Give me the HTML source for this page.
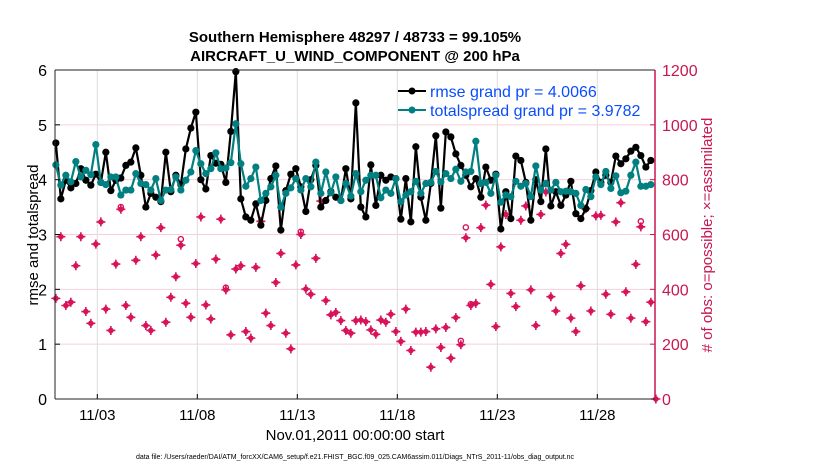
<!DOCTYPE html>
<html><head><meta charset="utf-8"><style>
body{margin:0;background:#fff;}
svg{display:block;font-family:"Liberation Sans",Arial,sans-serif;}
</style></head><body>
<svg id="chart" width="830" height="470" viewBox="0 0 830 470">
<rect width="830" height="470" fill="#fff"/>
<g id="grid"></g><g id="obs"></g><g id="lines"></g><g id="axes"></g>
<text x="355" y="42" text-anchor="middle" font-size="15" font-weight="bold">Southern Hemisphere 48297 / 48733 = 99.105%</text>
<text x="355" y="61" text-anchor="middle" font-size="15" font-weight="bold">AIRCRAFT_U_WIND_COMPONENT @ 200 hPa</text>
<text transform="translate(38,235) rotate(-90)" text-anchor="middle" font-size="15">rmse and totalspread</text>
<text transform="translate(712,235) rotate(-90)" text-anchor="middle" font-size="15" fill="#c8174f"># of obs: o=possible; ×=assimilated</text>
<text x="355" y="440" text-anchor="middle" font-size="15">Nov.01,2011 00:00:00 start</text>
<text x="355" y="459" text-anchor="middle" font-size="7">data file: /Users/raeder/DAI/ATM_forcXX/CAM6_setup/f.e21.FHIST_BGC.f09_025.CAM6assim.011/Diags_NTrS_2011-11/obs_diag_output.nc</text>
<g>
<line x1="398" y1="91" x2="426" y2="91" stroke="#000" stroke-width="2"/><circle cx="412" cy="91" r="3.5" fill="#000"/>
<text x="430" y="97" font-size="16" fill="#0a4dff">rmse grand pr = 4.0066</text>
<line x1="398" y1="110" x2="426" y2="110" stroke="#008080" stroke-width="2"/><circle cx="412" cy="110" r="3.5" fill="#008080"/>
<text x="430" y="116" font-size="16" fill="#0a4dff">totalspread grand pr = 3.9782</text>
</g>
</svg>
<script>
const rmse=[4.67,3.65,3.99,3.85,3.93,4.2,3.99,3.9,4.1,3.95,4.5,3.8,3.99,4.03,4.26,4.32,4.58,4.08,3.5,3.75,3.68,3.6,4.5,3.78,4.08,3.91,4.56,4.94,5.23,
4.0,3.83,4.44,4.3,4.28,3.95,4.88,5.97,
3.65,3.32,3.26,3.56,3.17,3.62,4.02,4.25,3.08,3.8,4.1,4.2,3.87,3.42,4.0,4.26,3.5,3.62,3.78,3.68,3.62,4.2,3.65,5.4,
3.5,3.32,4.27,3.53,4.08,3.99,4.05,4.02,3.28,4.02,3.23,4.6,3.68,3.26,3.93,4.8,3.48,4.87,4.78,4.47,4.26,4.08,3.87,4.02,3.68,4.23,3.99,4.1,3.1,3.78,
3.29,4.43,4.35,3.95,3.26,4.0,3.6,4.56,3.52,3.78,3.53,3.72,3.97,3.38,3.29,3.47,3.8,4.14,3.95,4.08,3.95,4.43,4.29,4.38,4.52,4.59,4.44,4.23,4.35];
const spread=[4.27,3.9,4.08,3.96,4.33,4.05,4.17,4.09,4.64,3.95,3.91,4.05,4.05,3.72,3.81,3.81,4.11,3.93,3.91,3.81,4.02,3.62,3.81,3.82,4.05,3.81,3.99,4.14,4.53,4.29,4.11,
4.2,4.49,4.2,4.21,4.31,5.02,4.29,3.88,4.02,4.23,3.62,3.75,3.87,4.08,3.5,3.75,3.85,4.02,3.81,4.02,3.87,4.32,3.75,4.14,3.76,4.05,3.62,3.93,3.7,4.11,
3.78,3.99,4.08,4.08,3.67,3.81,3.75,4.02,3.6,3.72,3.78,3.97,3.75,3.93,3.95,4.15,3.96,4.11,4.02,4.19,3.97,4.14,4.15,4.7,3.93,3.95,3.75,4.08,3.59,3.72,
3.69,3.97,3.88,3.93,3.69,4.25,3.81,3.93,3.81,3.95,3.78,3.79,3.78,3.75,3.53,3.82,3.69,4.05,3.91,4.15,3.84,4.07,3.76,3.79,4.08,4.32,3.88,3.88,3.91];
const obsAssim=[367,592,341,353,486,592,319,276,565,646,328,250,492,692,341,298,506,592,268,250,525,625,280,371,446,561,349,298,494,664,343,
292,510,656,398,234,474,486,246,222,480,648,313,268,425,531,240,183,489,600,401,382,513,722,359,307,316,286,250,240,286,
288,282,252,236,288,280,309,246,210,328,177,244,244,246,116,256,188,261,149,297,198,588,341,349,625,707,418,264,555,673,385,
337,652,704,398,268,673,755,373,321,531,564,295,246,413,694,321,668,670,382,309,646,716,391,295,491,628,282,353,0];
const obsPoss=[367,592,341,353,486,592,319,276,565,646,328,250,492,700,341,298,506,592,268,250,525,625,280,371,446,583,349,298,494,664,343,
292,510,656,406,234,474,486,246,222,480,648,313,268,425,531,240,183,489,610,401,382,513,722,359,307,316,286,250,240,286,
288,282,252,236,288,280,309,246,210,328,177,244,244,246,116,256,188,261,149,297,212,626,346,349,625,707,418,264,555,673,385,
337,652,704,398,268,673,755,373,321,531,564,295,246,413,694,321,668,670,382,309,646,716,391,295,491,648,282,353,0];
const xTickLabels=["11/03","11/08","11/13","11/18","11/23","11/28"];
const xTickDays=[2,7,12,17,22,27];
const yTicks=[0,1,2,3,4,5,6];
const y2Ticks=[0,200,400,600,800,1000,1200];

const L=55,R=655,T=70,B=399,NS="http://www.w3.org/2000/svg";
const xDay=d=>L+(R-L)*d/30;
const xTick=d=>xDay(d)+2.3;
const xIdx=i=>xDay((i+0.17)/4);
const yL=v=>B-(B-T)*v/6;
const yR=v=>B-(B-T)*v/1200;
function mk(tag,attrs,parent){const e=document.createElementNS(NS,tag);for(const k in attrs)e.setAttribute(k,attrs[k]);parent.appendChild(e);return e;}
const grid=document.getElementById('grid'),axes=document.getElementById('axes'),obsG=document.getElementById('obs'),lines=document.getElementById('lines');
yTicks.forEach(v=>{if(v>0&&v<6){const g=mk('line',{x1:L,x2:R,y1:yL(v),y2:yL(v),stroke:'#f5cfdc','stroke-width':1},grid);

}
const t=mk('text',{x:L-8,y:yL(v)+6,'text-anchor':'end','font-size':16},axes);t.textContent=v;


mk('line',{x1:L,x2:L+5,y1:yL(v),y2:yL(v),stroke:'#000'},axes);});
y2Ticks.forEach(v=>{const t=mk('text',{x:R+7,y:yR(v)+6,'font-size':16,fill:'#c8174f'},axes);t.textContent=v;


mk('line',{x1:R-5,x2:R,y1:yR(v),y2:yR(v),stroke:'#c8174f'},axes);});
xTickDays.forEach((d,i)=>{const g=mk('line',{x1:xTick(d),x2:xTick(d),y1:T,y2:B,stroke:'#dcdcdc'},grid);


mk('line',{x1:xTick(d),x2:xTick(d),y1:B,y2:B-5,stroke:'#000'},axes);
const t=mk('text',{x:xTick(d),y:B+21,'text-anchor':'middle','font-size':15},axes);t.textContent=xTickLabels[i];

});
mk('line',{x1:L,x2:R,y1:T,y2:T,stroke:'#222'},axes);
mk('line',{x1:L,x2:R,y1:B,y2:B,stroke:'#222'},axes);
mk('line',{x1:L,x2:L,y1:T,y2:B,stroke:'#222'},axes);
mk('line',{x1:R,x2:R,y1:T,y2:B,stroke:'#c8174f','stroke-width':1.5},axes);
const MC='#d8135a';
obsPoss.forEach((v,i)=>{if(v!==obsAssim[i]){const c=mk('circle',{cx:xIdx(i),cy:yR(v),r:2.6,fill:'none',stroke:MC,'stroke-width':1.4},obsG);

}});
obsAssim.forEach((v,i)=>{const x=xIdx(i),y=yR(v);
const g=mk('g',{},obsG);


mk('circle',{cx:x,cy:y,r:2.8,fill:MC},g);
mk('path',{d:`M${x-4.5} ${y}H${x+4.5}M${x} ${y-4.5}V${y+4.5}`,stroke:MC,'stroke-width':1.6},g);});
function series(arr,col,name){const pts=arr.map((v,i)=>xIdx(i)+','+yL(v)).join(' ');
const p=mk('polyline',{points:pts,fill:'none',stroke:col,'stroke-width':2.2,'stroke-linejoin':'round'},lines);


arr.forEach((v,i)=>{const c=mk('circle',{cx:xIdx(i),cy:yL(v),r:3.6,fill:col},lines);

});}
series(rmse,'#000','rmse');
series(spread,'#008080','totalspread');
</script>
</body></html>
